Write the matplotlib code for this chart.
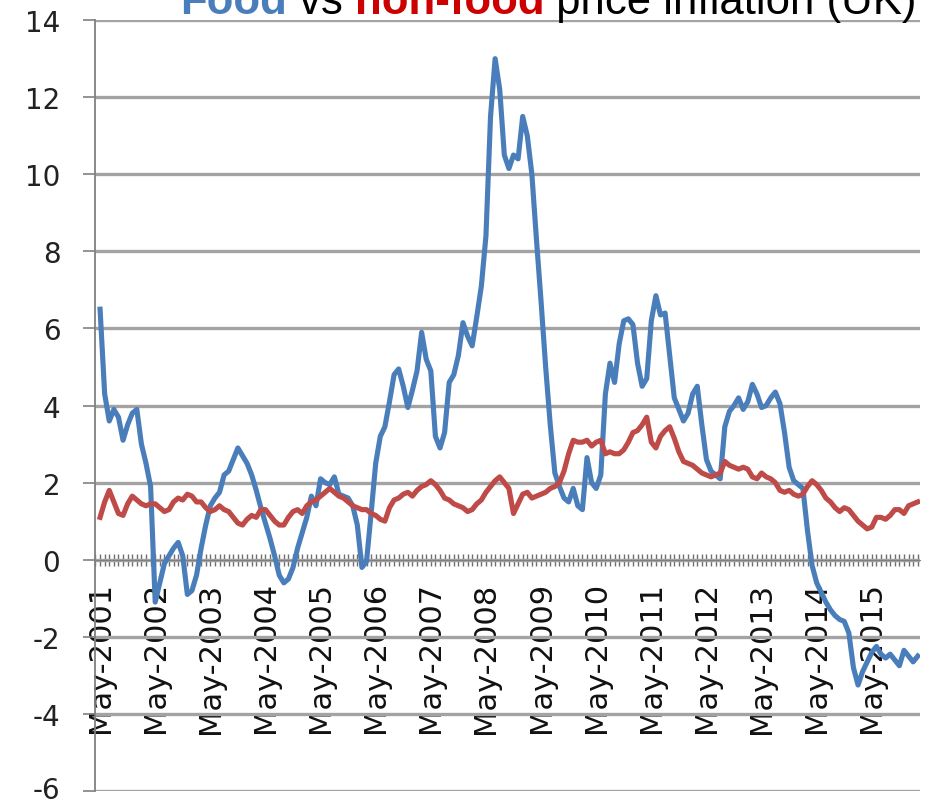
import matplotlib
matplotlib.use("Agg")
import matplotlib.pyplot as plt
import numpy as np
from matplotlib.ticker import FixedLocator, MultipleLocator
from matplotlib.transforms import ScaledTranslation

plt.rcParams["axes.unicode_minus"] = False

# Monthly annual inflation rates (%), May 2001 onwards
food = [
    6.5, 4.3, 3.6, 3.9, 3.7, 3.1, 3.5, 3.8, 3.9, 3.0,
    2.5, 1.9, -1.1, -0.6, -0.1, 0.1, 0.3, 0.45, 0.1, -0.9,
    -0.8, -0.4, 0.3, 0.9, 1.4, 1.6, 1.75, 2.2, 2.3, 2.6,
    2.9, 2.7, 2.5, 2.2, 1.8, 1.35, 0.95, 0.55, 0.1, -0.4,
    -0.6, -0.5, -0.2, 0.3, 0.7, 1.1, 1.65, 1.4, 2.1, 2.0,
    1.95, 2.15, 1.7, 1.65, 1.6, 1.4, 0.9, -0.2, -0.05, 1.2,
    2.5, 3.2, 3.45, 4.1, 4.8, 4.95, 4.5, 3.95, 4.4, 4.9,
    5.9, 5.2, 4.9, 3.2, 2.9, 3.3, 4.6, 4.8, 5.3, 6.15,
    5.8, 5.55, 6.3, 7.1, 8.4, 11.5, 13.0, 12.2, 10.5, 10.15,
    10.5, 10.4, 11.5, 11.0, 10.0, 8.3, 6.7, 5.0, 3.5, 2.25,
    1.9, 1.6, 1.5, 1.85, 1.4, 1.3, 2.65, 2.0, 1.85, 2.2,
    4.3, 5.1, 4.6, 5.6, 6.2, 6.25, 6.1, 5.1, 4.5, 4.7,
    6.2, 6.85, 6.35, 6.4, 5.3, 4.2, 3.9, 3.6, 3.8, 4.3,
    4.5, 3.5, 2.6, 2.3, 2.2, 2.1, 3.45, 3.85, 4.0, 4.2,
    3.9, 4.1, 4.55, 4.3, 3.95, 4.0, 4.2, 4.35, 4.05, 3.3,
    2.4, 2.05, 1.95, 1.85, 0.75, -0.15, -0.6, -0.85, -1.1, -1.3,
    -1.45, -1.55, -1.6, -1.9, -2.8, -3.25, -2.9, -2.65, -2.4, -2.25,
    -2.45, -2.55, -2.45, -2.6, -2.75, -2.35, -2.5, -2.65, -2.5,
]

non_food = [
    1.1, 1.5, 1.8, 1.5, 1.2, 1.15, 1.45, 1.65, 1.55, 1.45,
    1.4, 1.45, 1.45, 1.35, 1.25, 1.3, 1.5, 1.6, 1.55, 1.7,
    1.65, 1.5, 1.5, 1.35, 1.25, 1.3, 1.4, 1.3, 1.25, 1.1,
    0.95, 0.9, 1.05, 1.15, 1.1, 1.3, 1.3, 1.15, 1.0, 0.9,
    0.9, 1.1, 1.25, 1.3, 1.2, 1.4, 1.5, 1.55, 1.65, 1.75,
    1.85, 1.75, 1.65, 1.6, 1.5, 1.4, 1.35, 1.3, 1.3, 1.2,
    1.15, 1.05, 1.0, 1.35, 1.55, 1.6, 1.7, 1.75, 1.65, 1.8,
    1.9, 1.95, 2.05, 1.95, 1.8, 1.6, 1.55, 1.45, 1.4, 1.35,
    1.25, 1.3, 1.45, 1.55, 1.75, 1.9, 2.05, 2.15, 2.0, 1.85,
    1.2, 1.45, 1.7, 1.75, 1.6, 1.65, 1.7, 1.75, 1.85, 1.9,
    2.0, 2.3, 2.75, 3.1, 3.05, 3.05, 3.1, 2.95, 3.05, 3.1,
    2.75, 2.8, 2.75, 2.75, 2.85, 3.05, 3.3, 3.35, 3.5, 3.7,
    3.05, 2.9, 3.2, 3.35, 3.45, 3.15, 2.8, 2.55, 2.5, 2.45,
    2.35, 2.25, 2.2, 2.15, 2.2, 2.25, 2.55, 2.45, 2.4, 2.35,
    2.4, 2.35, 2.15, 2.1, 2.25, 2.15, 2.1, 2.0, 1.8, 1.75,
    1.8, 1.7, 1.65, 1.7, 1.9, 2.05, 1.95, 1.8, 1.6, 1.5,
    1.35, 1.25, 1.35, 1.3, 1.15, 1.0, 0.9, 0.8, 0.85, 1.1,
    1.1, 1.05, 1.15, 1.3, 1.3, 1.2, 1.4, 1.45, 1.5,
]

label_years = ["2001", "2002", "2003", "2004", "2005", "2006", "2007", "2008",
               "2009", "2010", "2011", "2012", "2013", "2014", "2015"]
tick_labels = ["May-" + y for y in label_years]

BLUE = "#4a7ebb"
RED = "#be4b48"
GRID = "#a3a3a3"
AXIS = "#808080"

months = np.arange(len(food))

fig = plt.figure(figsize=(9.27, 8.03), dpi=100)
ax = fig.add_axes([0.1025, 0.0137, 0.890, 0.960])

ax.plot(months, food, color=BLUE, lw=3.7, solid_joinstyle="round", zorder=3)
ax.plot(months, non_food, color=RED, lw=3.7, solid_joinstyle="round", zorder=4)

ax.set_xlim(-1.1, 178.5)
ax.set_ylim(-6, 14)
ax.set_yticks(range(-6, 15, 2))
ax.yaxis.grid(True, color=GRID, lw=2.4)
ax.set_axisbelow(True)

# category axis crosses at zero, one tick per month, a label every year
ax.spines["bottom"].set_position(("data", 0))
ax.spines["bottom"].set_color(AXIS)
ax.spines["left"].set_color(AXIS)
ax.spines["left"].set_linewidth(1.3)
ax.spines["top"].set_visible(False)
ax.spines["right"].set_visible(False)

ax.xaxis.set_major_locator(FixedLocator(months[::12]))
ax.xaxis.set_minor_locator(MultipleLocator(1))
ax.set_xticklabels(tick_labels, rotation=90)
ax.tick_params(axis="x", which="both", direction="inout", length=9, width=1.0,
               color="#6f6f6f")
ax.tick_params(axis="x", which="major", pad=11, labelsize=22, labelcolor="#111111")
ax.tick_params(axis="y", direction="out", length=9, width=1.2, color=AXIS,
               pad=16, labelsize=20, labelcolor="#222222")

# lift the lowest y label a touch so it stays inside the figure
lowest = ax.get_yticklabels()[0]
lowest.set_transform(lowest.get_transform() + ScaledTranslation(0, 3 / 72, fig.dpi_scale_trans))

# two-colour title, pieces laid end to end on one baseline
renderer = fig.canvas.get_renderer()
pieces = [("Food", BLUE, "bold"), (" vs ", "black", "normal"),
          ("non-food", "#cc0000", "bold"), (" price inflation (UK)", "black", "normal")]
x = 180 / 927
y = 1 - 14 / 803
for s, c, w in pieces:
    t = fig.text(x, y, s, color=c, fontweight=w, fontsize=31.5, va="baseline",
                 ha="left", family="Liberation Sans")
    bb = t.get_window_extent(renderer)
    x = bb.x1 / fig.bbox.width

fig.savefig("out.png", dpi=100)
